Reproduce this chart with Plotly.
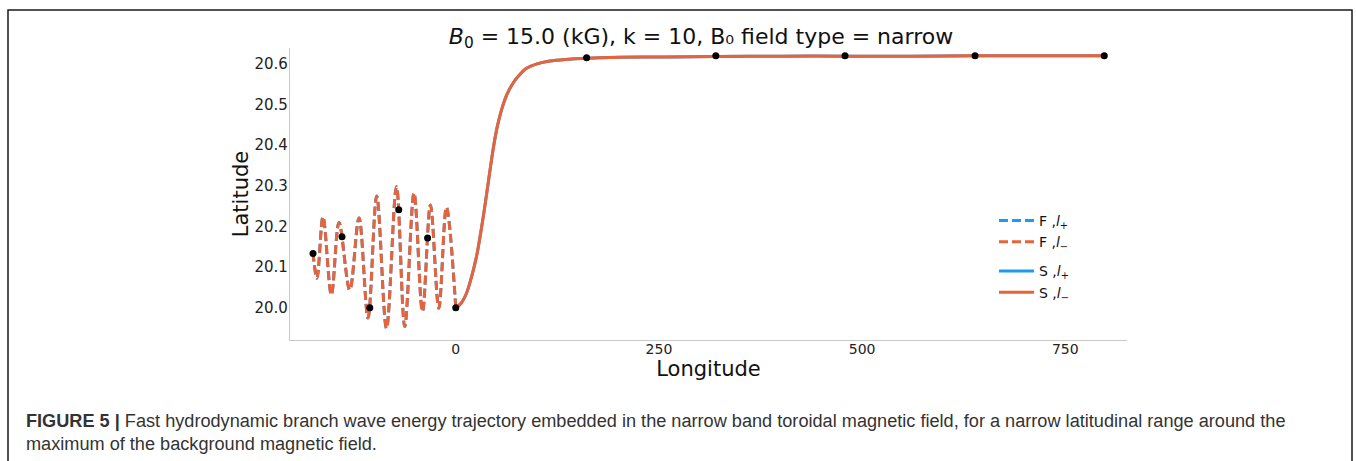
import plotly.graph_objects as go

# ---------------- data ----------------
# Fast branch (dashed) trajectory: longitude / latitude at turning points
f_lon = [0.0, -11.5, -20.9, -31.2, -41.0, -51.4, -62.8, -73.0, -85.3, -97.3,
         -108.0, -119.1, -130.5, -143.7, -153.1, -163.4, -170.8, -175.7]
f_lat = [20.000, 20.247, 19.999, 20.253, 19.991, 20.282, 19.954, 20.298, 19.950, 20.275,
         19.975, 20.221, 20.044, 20.210, 20.032, 20.224, 20.073, 20.134]

# Slow branch (solid) trajectory
s_lon = [0.0, 6.0, 13.2, 19.5, 25.5, 30.8, 35.7, 40.8, 45.9, 51.0, 56.3, 63.0, 70.6,
         78.5, 87.1, 100.0, 115.8, 135.0, 161.0, 202.0, 260.0, 320.0, 400.0, 480.0,
         560.0, 640.0, 720.0, 798.0]
s_lat = [20.000, 20.010, 20.036, 20.077, 20.126, 20.186, 20.249, 20.320, 20.389, 20.445,
         20.487, 20.525, 20.553, 20.573, 20.589, 20.600, 20.607, 20.611, 20.614, 20.616,
         20.617, 20.618, 20.619, 20.619, 20.619, 20.620, 20.620, 20.620]

# Sample markers along the trajectories
dot_lon = [-175.7, -140.0, -105.8, -70.2, -34.7, 0.0, 161.0, 320.0, 479.0, 639.0, 798.0]
dot_lat = [20.134, 20.175, 20.000, 20.241, 20.172, 20.000, 20.615, 20.620, 20.620, 20.620, 20.620]

x_ticks = [0, 250, 500, 750]
y_ticks = [20.0, 20.1, 20.2, 20.3, 20.4, 20.5, 20.6]
y_tick_text = ["20.0", "20.1", "20.2", "20.3", "20.4", "20.5", "20.6"]

legend_names = ["F ,<i>l</i><sub>+</sub>", "F ,<i>l</i><sub>\u2212</sub>",
                "S ,<i>l</i><sub>+</sub>", "S ,<i>l</i><sub>\u2212</sub>"]

title_text = "<i>B</i><sub>0</sub> = 15.0 (kG), k = 10, B\u2080 field type = narrow"
caption_1 = ("<b>FIGURE 5 |</b> Fast hydrodynamic branch wave energy trajectory embedded in the "
             "narrow band toroidal magnetic field, for a narrow latitudinal range around the")
caption_2 = "maximum of the background magnetic field."

# ---------------- styling / layout ----------------
W, H = 1356, 461
PL, PR, PT, PB = 290, 1127, 48, 340   # plot area in pixels


def px_x(p):
    return (p - PL) / (PR - PL)


def px_y(p):
    return (PB - p) / (PB - PT)


BLUE = "#1E9BF0"
ORANGE = "#E8623A"
FONT = "DejaVu Sans"

fig = go.Figure()

fig.add_trace(go.Scatter(x=f_lon, y=f_lat, mode="lines", name=legend_names[0],
                         legendgroup="F", line=dict(color=BLUE, width=3, dash="9px,4px",
                                                    shape="spline", smoothing=1.0)))
fig.add_trace(go.Scatter(x=f_lon, y=f_lat, mode="lines", name=legend_names[1],
                         legendgroup="F", line=dict(color=ORANGE, width=3, dash="9px,4px",
                                                    shape="spline", smoothing=1.0)))
fig.add_trace(go.Scatter(x=s_lon, y=s_lat, mode="lines", name=legend_names[2],
                         legendgroup="S", line=dict(color=BLUE, width=3,
                                                    shape="spline", smoothing=0.8)))
fig.add_trace(go.Scatter(x=s_lon, y=s_lat, mode="lines", name=legend_names[3],
                         legendgroup="S", line=dict(color=ORANGE, width=3,
                                                    shape="spline", smoothing=0.8)))
fig.add_trace(go.Scatter(x=dot_lon, y=dot_lat, mode="markers", showlegend=False,
                         marker=dict(color="black", size=7)))

fig.update_layout(
    width=W, height=H,
    margin=dict(l=PL, r=W - PR, t=PT, b=H - PB),
    paper_bgcolor="white", plot_bgcolor="white",
    font=dict(family=FONT, size=14, color="#222222"),
    title=dict(text=title_text, xref="container", x=701 / W, xanchor="center",
               y=1 - 36 / H, yanchor="middle",
               font=dict(family=FONT, size=22, color="#111111")),
    xaxis=dict(range=[-204, 826], tickvals=x_ticks, ticks="", showgrid=False, zeroline=False,
               showline=True, linecolor="#c8c8c8", linewidth=1.2, ticklabelstandoff=-4,
               tickfont=dict(size=14, color="#222222"),
               title=dict(text="Longitude", font=dict(size=21, color="#111111"), standoff=0)),
    yaxis=dict(range=[19.921, 20.639], tickvals=y_ticks, ticktext=y_tick_text, ticks="",
               showgrid=False, zeroline=False, showline=True, linecolor="#c8c8c8", linewidth=1.2,
               ticklabelstandoff=-2,
               tickfont=dict(size=15, color="#222222"),
               title=dict(text="Latitude", font=dict(size=21, color="#111111"), standoff=0)),
    legend=dict(x=px_x(994), y=px_y(205), xanchor="left", yanchor="top",
                traceorder="grouped", tracegroupgap=8, bgcolor="rgba(0,0,0,0)",
                itemwidth=35,
                font=dict(family=FONT, size=14, color="#111111")),
)

# frame around the figure
fig.add_shape(type="path", xref="paper", yref="paper",
              path=f"M {px_x(8)} {px_y(470)} L {px_x(8)} {px_y(10)} L {px_x(1352)} {px_y(10)} L {px_x(1352)} {px_y(470)}",
              line=dict(color="#1a1a1a", width=1.5))

# caption
for txt, yy in [(caption_1, 421), (caption_2, 444)]:
    fig.add_annotation(text=txt, xref="paper", yref="paper", x=px_x(24), y=px_y(yy),
                       xanchor="left", yanchor="middle", showarrow=False, align="left",
                       font=dict(family="Liberation Sans", size=18.15, color="#333333"))

fig.write_html("out.html")
